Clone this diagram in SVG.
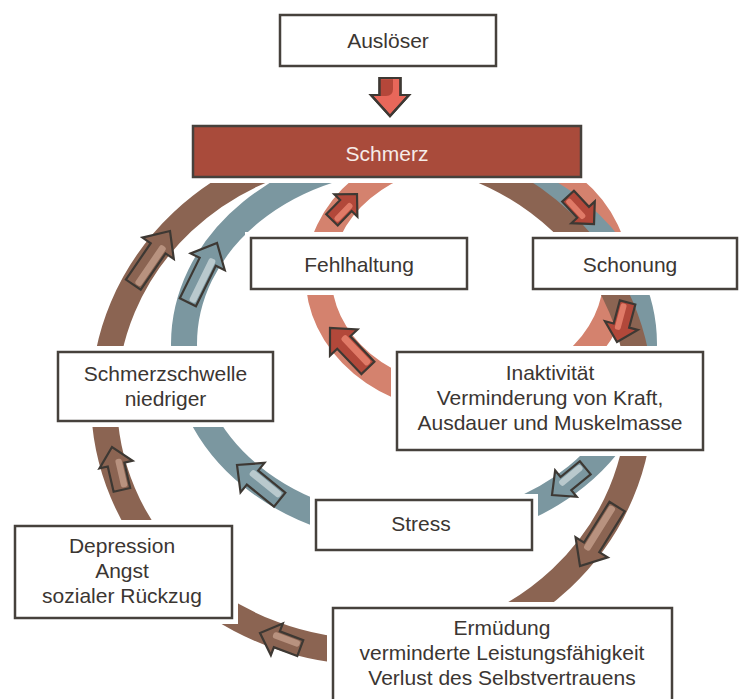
<svg xmlns="http://www.w3.org/2000/svg" width="741" height="699" viewBox="0 0 741 699">
<style>
.box{fill:#ffffff;stroke:#46413c;stroke-width:2.5}
.pad{fill:#ffffff}
.t{font-family:"Liberation Sans",Arial,sans-serif;font-size:21px;fill:#3b3632;text-anchor:middle}
.ring{fill:none;stroke-width:26}
.arr{stroke:#3d3833;stroke-width:2.2;stroke-linejoin:miter}
.sal{fill:#b2483a}
.salh{fill:#e07a67}
.brn{fill:#8b6452}
.brnh{fill:#b8927f}
.blu{fill:#7b97a0}
.bluh{fill:#b9c9cd}
</style>
<rect width="741" height="699" fill="#ffffff"/>
<g id="connectors">
  <ellipse class="ring" cx="467.5" cy="276" rx="149" ry="124" stroke="#d4826e" stroke-width="27"/>
  <ellipse class="ring" cx="414" cy="344" rx="230" ry="187" stroke="#7b97a0"/>
  <ellipse class="ring" cx="372" cy="400" rx="268" ry="252" stroke="#8b6452"/>
  <!-- Ausloeser -> Schmerz -->
  <g id="arrow-trigger">
    <polygon class="arr" fill="#e8675a" points="379.5,78 400.5,78 400.5,95 409,95 390,116 371,95 379.5,95"/>
    <path d="M380.6,79.2 H393 V89 Q393,96 386,96 H380.6 Z" fill="#b5473a"/>
    <polygon fill="none" class="arr" points="379.5,78 400.5,78 400.5,95 409,95 390,116 371,95 379.5,95"/>
  </g>
  <!-- salmon ring arrows -->
  <g transform="translate(357,194) rotate(-46)">
    <polygon class="arr sal" points="-36,-8 -16,-8 -16,-16 0,0 -16,16 -16,8 -36,8"/>
    <rect class="salh" x="-34" y="0" width="23" height="6" rx="2.5"/>
  </g>
  <g transform="translate(330,328) rotate(-133.5)">
    <polygon class="arr sal" points="-55,-9 -20,-9 -20,-19 0,0 -20,19 -20,9 -55,9"/>
    <rect class="salh" x="-53" y="0" width="38" height="7" rx="2.5"/>
  </g>
  <g transform="translate(594,224) rotate(47)">
    <polygon class="arr sal" points="-38,-8 -16,-8 -16,-16 0,0 -16,16 -16,8 -38,8"/>
    <rect class="salh" x="-36" y="0" width="25" height="6" rx="2.5"/>
  </g>
  <g transform="translate(617,342) rotate(105)">
    <polygon class="arr sal" points="-41,-8 -17,-8 -17,-17 0,0 -17,17 -17,8 -41,8"/>
    <rect class="salh" x="-39" y="0" width="27" height="6" rx="2.5"/>
  </g>
  <!-- brown ring arrows -->
  <g transform="translate(170,231) rotate(-55.6)">
    <polygon class="arr brn" points="-65,-9 -21,-9 -21,-19 0,0 -21,19 -21,9 -65,9"/>
    <rect class="brnh" x="-63" y="0" width="47" height="7" rx="2.5"/>
  </g>
  <g transform="translate(112,447) rotate(-103)">
    <polygon class="arr brn" points="-44,-8.5 -18,-8.5 -18,-17 0,0 -18,17 -18,8.5 -44,8.5"/>
    <rect class="brnh" x="-42" y="0" width="29" height="6.5" rx="2.5"/>
  </g>
  <g transform="translate(260,633) rotate(200.6)">
    <polygon class="arr brn" points="-43,-8.5 -18,-8.5 -18,-17 0,0 -18,17 -18,8.5 -43,8.5"/>
    <rect class="brnh" x="-41" y="0" width="28" height="6.5" rx="2.5"/>
  </g>
  <g transform="translate(580,566) rotate(122)">
    <polygon class="arr brn" points="-70,-9 -22,-9 -22,-19 0,0 -22,19 -22,9 -70,9"/>
    <rect class="brnh" x="-68" y="0" width="51" height="7" rx="2.5"/>
  </g>
  <!-- blue ring arrows -->
  <g transform="translate(217,243) rotate(-63.8)">
    <polygon class="arr blu" points="-66,-9 -21,-9 -21,-19 0,0 -21,19 -21,9 -66,9"/>
    <rect class="bluh" x="-64" y="0" width="48" height="7" rx="2.5"/>
  </g>
  <g transform="translate(237,465) rotate(-140.9)">
    <polygon class="arr blu" points="-55,-9 -20,-9 -20,-19 0,0 -20,19 -20,9 -55,9"/>
    <rect class="bluh" x="-53" y="0" width="38" height="7" rx="2.5"/>
  </g>
  <g transform="translate(552,495) rotate(140.7)">
    <polygon class="arr blu" points="-43,-8.5 -18,-8.5 -18,-17 0,0 -18,17 -18,8.5 -43,8.5"/>
    <rect class="bluh" x="-41" y="0" width="28" height="6.5" rx="2.5"/>
  </g>
</g>
<g id="node-ausloeser">
  <rect class="box" x="280" y="15" width="216" height="51"/>
  <text class="t" x="388" y="48">Auslöser</text>
</g>
<g id="node-schmerz">
  <rect class="pad" x="187" y="120" width="400" height="63"/>
  <rect x="193" y="126" width="388" height="51" fill="#a94b3b" stroke="#46413c" stroke-width="2.5"/>
  <text class="t" x="387" y="161" fill="#f6ece8" style="fill:#f6ece8">Schmerz</text>
</g>
<g id="node-fehlhaltung">
  <rect class="pad" x="245" y="232" width="228" height="63"/>
  <rect class="box" x="251" y="238" width="216" height="51"/>
  <text class="t" x="359" y="272">Fehlhaltung</text>
</g>
<g id="node-schonung">
  <rect class="pad" x="527" y="232" width="220" height="63"/>
  <rect class="box" x="533" y="238" width="204" height="51"/>
  <text class="t" x="630" y="272">Schonung</text>
</g>
<g id="node-schmerzschwelle">
  <rect class="pad" x="52" y="346" width="227" height="81"/>
  <rect class="box" x="58" y="352" width="215" height="69"/>
  <text class="t" x="165.5" y="381">Schmerzschwelle</text>
  <text class="t" x="165.5" y="406">niedriger</text>
</g>
<g id="node-inaktivitaet">
  <rect class="pad" x="391" y="346" width="318" height="110"/>
  <rect class="box" x="397" y="352" width="306" height="98"/>
  <text class="t" x="550" y="380">Inaktivität</text>
  <text class="t" x="550" y="405">Verminderung von Kraft,</text>
  <text class="t" x="550" y="430">Ausdauer und Muskelmasse</text>
</g>
<g id="node-stress">
  <rect class="pad" x="310" y="494" width="228" height="62"/>
  <rect class="box" x="316" y="500" width="216" height="50"/>
  <text class="t" x="421" y="531">Stress</text>
</g>
<g id="node-depression">
  <rect class="pad" x="9" y="520" width="229" height="104"/>
  <rect class="box" x="15" y="526" width="217" height="92"/>
  <text class="t" x="122" y="553">Depression</text>
  <text class="t" x="122" y="578">Angst</text>
  <text class="t" x="122" y="603">sozialer Rückzug</text>
</g>
<g id="node-ermuedung">
  <rect class="pad" x="327" y="602" width="351" height="110"/>
  <rect class="box" x="333" y="608" width="339" height="100"/>
  <text class="t" x="502" y="635">Ermüdung</text>
  <text class="t" x="502" y="660">verminderte Leistungsfähigkeit</text>
  <text class="t" x="502" y="685">Verlust des Selbstvertrauens</text>
</g>
</svg>
